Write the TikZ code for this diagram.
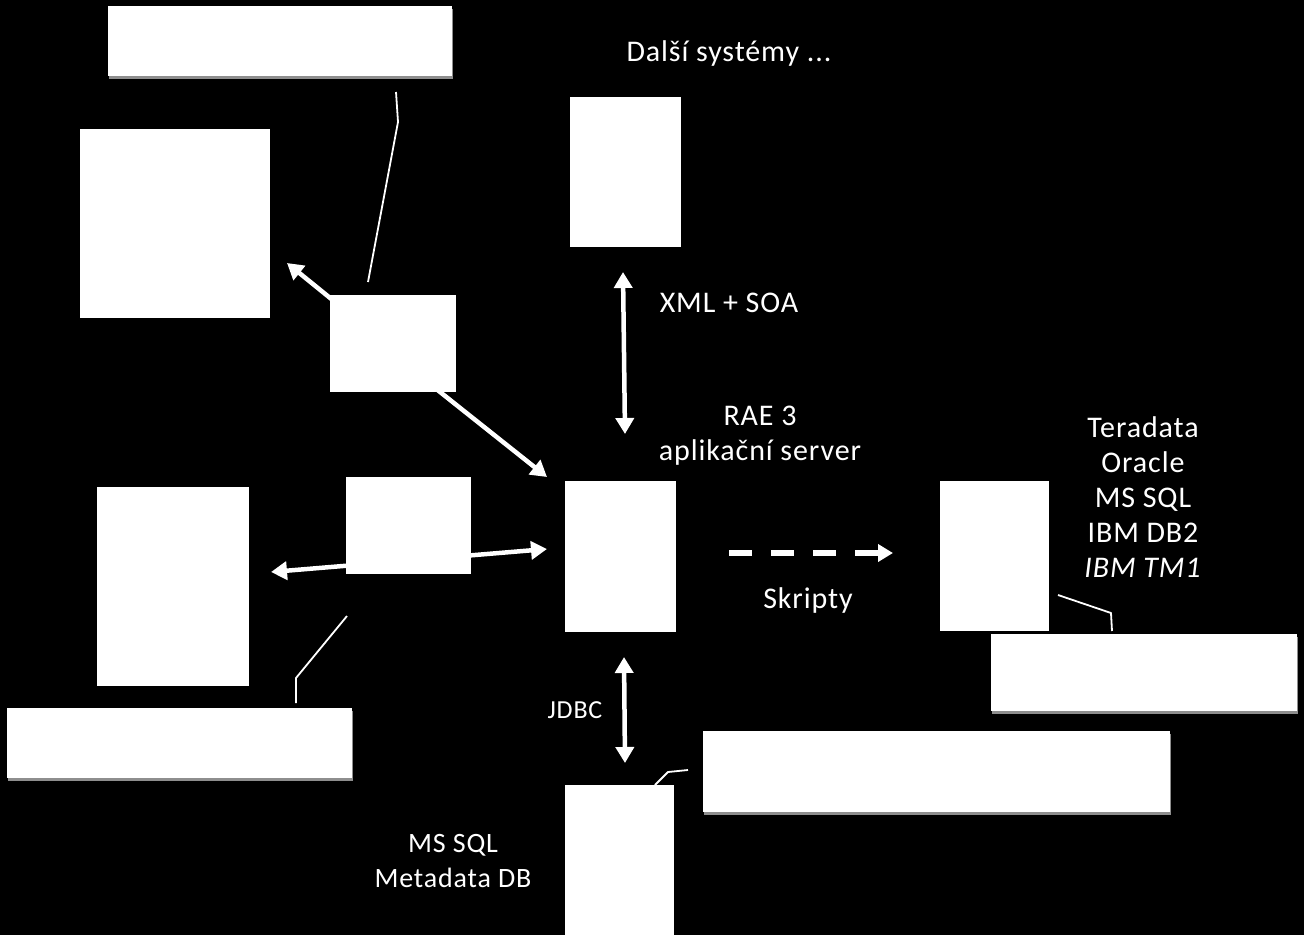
\documentclass[tikz,border=0pt]{standalone}
\usepackage{fontspec}
\setmainfont{Carlito}[LetterSpace=3]
\usetikzlibrary{arrows.meta,shadows}
\tikzset{
  box/.style={fill=white, draw=none, inner sep=0pt, outer sep=0pt, anchor=north west},
  callout/.style={box, drop shadow={shadow xshift=1pt, shadow yshift=-3pt, fill=gray!60, opacity=.8}},
  lbl/.style={text=white, font=\fontsize{30}{35}\selectfont, align=center, inner sep=0pt},
  smalllbl/.style={text=white, font=\fontsize{26}{29}\selectfont, inner sep=0pt},
  dbl/.style={white, line width=4.5pt, {Triangle[width=18pt,length=16pt]}-{Triangle[width=18pt,length=16pt]}},
  single/.style={white, line width=4.5pt, -{Triangle[width=18pt,length=16pt]}},
  thinline/.style={white, line width=1.8pt, line join=round},
}
\begin{document}
\begin{tikzpicture}[x=1pt,y=-1pt]
\fill[black] (0,0) rectangle (1304,935);
\useasboundingbox (0,0) rectangle (1304,935);

% arrows drawn below boxes
\coordinate (bA) at (340,306);
\coordinate (tA) at (287,263);
\coordinate (bD) at (430,384);
\coordinate (tD) at (547,477);
\coordinate (hL) at (271,572);
\coordinate (hR) at (547,549);
\coordinate (xT) at (623,272);
\coordinate (xB) at (625,434);
\coordinate (jT) at (624,657);
\coordinate (jB) at (625,763);
\coordinate (sL) at (729,553);
\coordinate (sR) at (893,553);

\draw[single] (bA) -- (tA);
\draw[single] (bD) -- (tD);
\draw[dbl] (hL) -- (hR);
\draw[dbl] (xT) -- (xB);
\draw[dbl] (jT) -- (jB);
\draw[white, line width=6pt, dash pattern=on 23pt off 19pt, -{Triangle[width=17pt,length=15pt]}] (sL) -- (sR);

% boxes
\node[callout, minimum width=344pt, minimum height=70pt] (callTop) at (108,6) {};
\node[box, minimum width=190pt, minimum height=189pt] (A) at (80,129) {};
\node[box, minimum width=126pt, minimum height=97pt] (B) at (330,295) {};
\node[box, minimum width=111pt, minimum height=150pt] (C) at (570,97) {};
\node[box, minimum width=111pt, minimum height=151pt] (D) at (565,481) {};
\node[box, minimum width=125pt, minimum height=97pt] (E) at (346,477) {};
\node[box, minimum width=152pt, minimum height=199pt] (F) at (97,487) {};
\node[callout, minimum width=345pt, minimum height=70pt] (callBL) at (7,708) {};
\node[box, minimum width=109pt, minimum height=150pt] (G) at (940,481) {};
\node[callout, minimum width=306pt, minimum height=77pt] (callR) at (991,634) {};
\node[callout, minimum width=467pt, minimum height=81pt] (callB) at (703,731) {};
\node[box, minimum width=109pt, minimum height=160pt] (H) at (565,785) {};

% callout lines
\coordinate (ct1) at (368,282);
\coordinate (ct2) at (398,122);
\coordinate (ct3) at (396,92);
\draw[thinline] (ct1) -- (ct2) -- (ct3);
\coordinate (cb1) at (347,616);
\coordinate (cb2) at (296,678);
\coordinate (cb3) at (296,703);
\draw[thinline] (cb1) -- (cb2) -- (cb3);
\coordinate (cr1) at (1058,595);
\coordinate (cr2) at (1111,613);
\coordinate (cr3) at (1112,631);
\draw[thinline] (cr1) -- (cr2) -- (cr3);
\coordinate (cm1) at (655,785);
\coordinate (cm2) at (668,772);
\coordinate (cm3) at (688,770);
\draw[thinline] (cm1) -- (cm2) -- (cm3);

% labels
\node[lbl] (dalsi) at (729,53) {Další systémy ...};
\node[lbl] (xml) at (729,303) {XML + SOA};
\node[lbl] (rae) at (760,436) {RAE 3\\aplikační server};
\node[lbl] (dbs) at (1143,497) {Teradata\\Oracle\\MS SQL\\IBM DB2\\\textit{IBM TM1}};
\node[lbl] (skr) at (808,600) {Skripty};
\node[smalllbl] (jdbc) at (575,710) {JDBC};
\node[lbl, font=\fontsize{28}{35}\selectfont] (meta) at (453,861) {MS SQL\\Metadata DB};
\end{tikzpicture}
\end{document}
